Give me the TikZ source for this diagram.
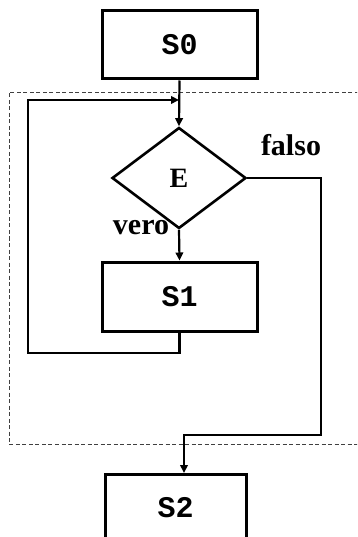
\documentclass[tikz,border=0pt]{standalone}
\usepackage{fontspec}
\setmainfont{Liberation Serif}
\setmonofont{Liberation Mono}
\usetikzlibrary{shapes.geometric,arrows.meta}
\tikzset{
  stmt/.style={draw, line width=3pt, minimum width=155pt, minimum height=68pt, inner sep=0pt, font=\fontsize{30}{36}\selectfont\ttfamily\bfseries},
  cond/.style={draw, diamond, line width=2.6pt, minimum width=134pt, minimum height=101pt, inner sep=0pt, font=\fontsize{28}{34}\selectfont\bfseries},
  conn/.style={line width=2.2pt},
  arr/.style={conn, -{Triangle[length=8pt,width=7.5pt]}},
  lbl/.style={font=\fontsize{30}{36}\selectfont\bfseries, inner sep=0pt},
  frame/.style={line width=0.9pt, dash pattern=on 4pt off 2.5pt, black!75}
}
\begin{document}
\begin{tikzpicture}[x=1pt,y=-1pt]
\useasboundingbox (0,0) rectangle (357,537);
\clip (0,0) rectangle (357,537);
\fill[white] (0,0) rectangle (357,537);
\draw[frame] (365,92) -- (9,92) -- (9,444) -- (365,444);
\node[stmt] (S0) at (179.5,45) {S0};
\node[cond] (E) at (179,178) {E};
\node[stmt, minimum height=69pt] (S1) at (179.5,296.5) {S1};
\node[stmt, minimum width=141pt, minimum height=67pt, anchor=north] (S2) at (175.5,473) {S2};
\node[lbl] (falso) at (291,145) {falso};
\node[lbl] (vero) at (141,228) {vero};
\coordinate (lb) at (28,353);
\coordinate (lt) at (28,100);
\coordinate (jn) at (179,100);
\coordinate (rx) at (321,0);
\coordinate (r2) at (321,435);
\coordinate (b2) at (184,435);
\draw[arr] (S0.south) -- (E.north);
\draw[arr] (E.south) -- (S1.north);
\draw[arr] (S1.south) -- (S1.south |- lb) -- (lb) -- (lt) -- (jn);
\draw[arr] (E.east) -- (E.east -| rx) -- (r2) -- (b2) -- (b2 |- S2.north);
\end{tikzpicture}
\end{document}
